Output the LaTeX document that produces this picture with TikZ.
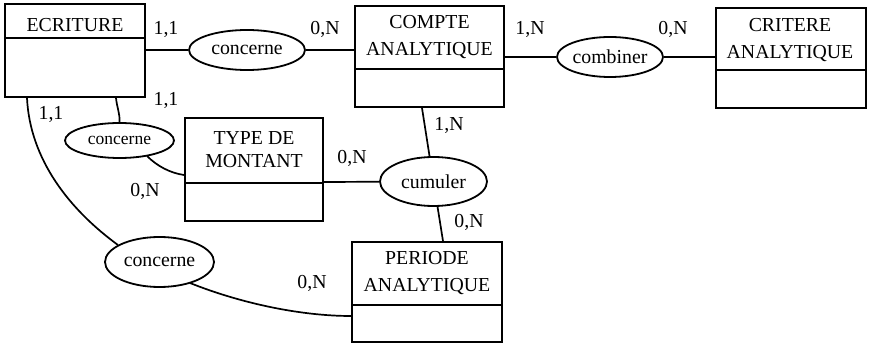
\documentclass[tikz,border=0pt]{standalone}
\usepackage{fontspec}
\setmainfont{Liberation Serif}
\usetikzlibrary{shapes.geometric}

\begin{document}
\begin{tikzpicture}[x=1pt,y=-1pt,
        entite/.style={draw, line width=2pt, inner sep=0pt},
        titre/.style={align=center, inner sep=0pt, font=\fontsize{19.8}{27}\selectfont},
        assoc/.style={draw, ellipse, line width=1.8pt, inner sep=0pt, font=\fontsize{19.8}{23}\selectfont},
        card/.style={anchor=base, inner sep=0pt, font=\fontsize{19.8}{23}\selectfont},
        lien/.style={line width=1.7pt}]
        \useasboundingbox (0,0) rectangle (870,344);

        % entites : cadre, titre et trait de separation
        \node[entite, minimum width=140pt, minimum height=93pt] (ecr) at (75,50.5) {};
        \node[titre] (ecrT) at (75,25.5) {ECRITURE};
        \draw[line width=2pt] (ecr.west |- 0,38) -- (ecr.east |- 0,38);

        \node[entite, minimum width=149pt, minimum height=101pt] (cpt) at (429.5,56.5) {};
        \node[titre] (cptT) at (429.5,37.5) {COMPTE\\ANALYTIQUE};
        \draw[line width=2pt] (cpt.west |- 0,69) -- (cpt.east |- 0,69);

        \node[entite, minimum width=150pt, minimum height=100pt] (cri) at (791,58) {};
        \node[titre] (criT) at (790,40.5) {CRITERE\\ANALYTIQUE};
        \draw[line width=2pt] (cri.west |- 0,70) -- (cri.east |- 0,70);

        \node[entite, minimum width=138pt, minimum height=103pt] (tdm) at (254,169.5) {};
        \node[titre, font=\fontsize{19.8}{23}\selectfont] (tdmT) at (254,150) {TYPE DE\\MONTANT};
        \draw[line width=2pt] (tdm.west |- 0,183) -- (tdm.east |- 0,183);

        \node[entite, minimum width=150pt, minimum height=100pt] (per) at (427,292) {};
        \node[titre] (perT) at (427,273.5) {PERIODE\\ANALYTIQUE};
        \draw[line width=2pt] (per.west |- 0,305) -- (per.east |- 0,305);

        % associations
        \node[assoc, minimum width=116pt, minimum height=40pt] (con1) at (247,50) {concerne};
        \node[assoc, minimum width=106pt, minimum height=40pt] (comb) at (610,57) {combiner};
        \node[assoc, minimum width=109pt, minimum height=35pt, font=\fontsize{17.5}{21}\selectfont] (con2) at (119.5,140.5) {concerne};
        \node[assoc, minimum width=107pt, minimum height=49pt] (cum) at (433.5,181.5) {cumuler};
        \node[assoc, minimum width=109pt, minimum height=50pt] (con3) at (159.5,262) {concerne};

        % liens
        \draw[lien] (ecr.east |- con1) -- (con1);
        \draw[lien] (con1) -- (cpt.west |- con1);
        \draw[lien] (cpt.east |- comb) -- (comb);
        \draw[lien] (comb) -- (cri.west |- comb);
        \draw[lien] (cpt.south -| 422,0) -- (cum);
        \draw[lien] (tdm.east |- 0,182) -- (cum);
        \draw[lien] (cum) -- (per.north -| 443,0);
        \draw[lien] (ecr.south -| 116,0) .. controls (117,108) and (120,113) .. (con2.north);
        \draw[lien] (147,156) .. controls (157,166) and (170,173) .. (tdm.west |- 0,175);
        \draw[lien] (ecr.south -| 27,0) .. controls (30,160) and (70,210) .. (118,245);
        \draw[lien] (190,283) .. controls (240,303) and (300,316) .. (per.west |- 0,316);

        % cardinalites
        \node[card] (k1) at (166,35) {1,1};
        \node[card] (k2) at (325,35) {0,N};
        \node[card] (k3) at (530,35) {1,N};
        \node[card] (k4) at (673,35) {0,N};
        \node[card] (k5) at (166,106) {1,1};
        \node[card] (k6) at (51,120) {1,1};
        \node[card] (k7) at (449,131) {1,N};
        \node[card] (k8) at (352,164) {0,N};
        \node[card] (k9) at (145,197) {0,N};
        \node[card] (k10) at (469,228) {0,N};
        \node[card] (k11) at (312,289) {0,N};
    \end{tikzpicture}
\end{document}
